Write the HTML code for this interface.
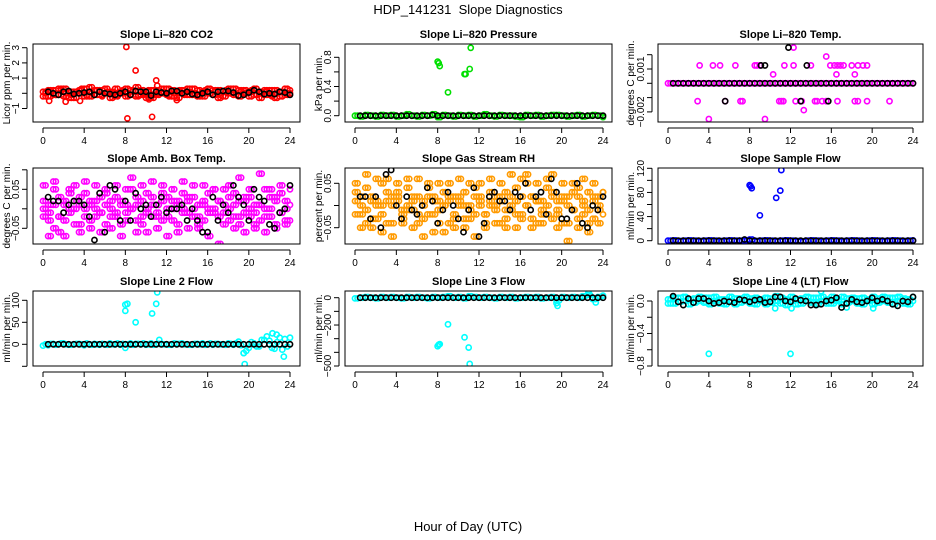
<!DOCTYPE html>
<html><head><meta charset="utf-8"><style>
html,body{margin:0;padding:0;background:#fff;}
svg{display:block;font-family:"Liberation Sans",sans-serif;}
</style></head><body>
<svg id="chart" width="936" height="540" viewBox="0 0 936 540" xmlns="http://www.w3.org/2000/svg">
<text x="468" y="14" font-size="13" text-anchor="middle" style="white-space:pre">HDP_141231  Slope Diagnostics</text>
<text x="468" y="531" font-size="13" text-anchor="middle">Hour of Day (UTC)</text>
</svg>
<script>
// shared half-hour grid (hours)
const hours = [0,0.5,1,1.5,2,2.5,3,3.5,4,4.5,5,5.5,6,6.5,7,7.5,8,8.5,9,9.5,10,10.5,11,11.5,12,12.5,13,13.5,14,14.5,15,15.5,16,16.5,17,17.5,18,18.5,19,19.5,20,20.5,21,21.5,22,22.5,23,23.5,24];
const blackHours = [0.5,1,1.5,2,2.5,3,3.5,4,4.5,5,5.5,6,6.5,7,7.5,8,8.5,9,9.5,10,10.5,11,11.5,12,12.5,13,13.5,14,14.5,15,15.5,16,16.5,17,17.5,18,18.5,19,19.5,20,20.5,21,21.5,22,22.5,23,23.5,24];
const quarterHours = [0.25,0.75,1.25,1.75,2.25,2.75,3.25,3.75,4.25,4.75,5.25,5.75,6.25,6.75,7.25,7.75,8.25,8.75,9.25,9.75,10.25,10.75,11.25,11.75,12.25,12.75,13.25,13.75,14.25,14.75,15.25,15.75,16.25,16.75,17.25,17.75,18.25,18.75,19.25,19.75,20.25,20.75,21.25,21.75,22.25,22.75,23.25,23.75];
const xTicks = [0,4,8,12,16,20,24];

// Panel 1 CO2
const co2A = [0.1,-0.2,0.2,-0.1,0.3,-0.3,0.1,0.2,-0.2,0.4,-0.1,0.2,0.0,-0.3,0.3,0.1,-0.2,0.2,0.4,-0.1,0.1,-0.3,0.2,0.0,0.3,-0.2,0.1,0.2,-0.1,0.3,-0.2,0.1,0.0,0.2,-0.3,0.1,0.3,-0.1,0.2,0.0,-0.2,0.3,0.1,-0.1,0.2,-0.3,0.1,0.3,0.0];
const co2B = [-0.2,0.2,-0.1,0.3,-0.2,0.1,-0.3,0.0,0.3,-0.2,0.2,-0.1,0.3,0.1,-0.2,0.0,0.3,-0.1,-0.2,0.2,-0.3,0.2,-0.1,0.3,-0.1,0.2,-0.3,0.0,0.3,-0.1,0.2,-0.2,0.3,-0.1,0.2,-0.2,0.0,0.3,-0.2,0.2,0.1,-0.1,-0.3,0.2,-0.1,0.2,-0.2,-0.1,0.2];
const co2C = [0.0,0.1,-0.1,0.2,0.0,-0.1,0.1,0.3,-0.1,0.0,0.2,-0.2,0.1,0.0,-0.1,0.2,0.0,0.1,-0.1,0.0,0.2,-0.1,0.0,0.1,-0.2,0.0,0.2,-0.1,0.1,0.0,-0.1,0.2,0.0,0.1,-0.1,0.2,0.0,-0.1,0.1,0.0,0.2,-0.1,0.0,0.1,-0.2,0.0,0.1,0.0];
const co2OutX = [8.1,8.2,9.0,10.6,11.0,11.1,0.6,2.2,3.6,13.0,10.3];
const co2OutY = [3.05,-1.65,1.5,-1.55,0.85,0.5,-0.5,-0.55,-0.5,-0.45,-0.4];
const co2Black = [0.1,0,-0.1,0.1,0.15,-0.05,0,0.05,0.1,-0.1,0.1,0,-0.05,-0.1,0,0.1,-0.1,0.15,0.1,0.1,-0.15,0.1,0.05,0,0.15,0.15,0,0.1,-0.05,-0.1,0,0.1,-0.1,0.1,0.15,0.15,0.05,-0.15,-0.1,0.05,0.2,0.1,-0.05,0,-0.05,0.1,0.05,-0.1];
const co2Ticks = [-1,0,1,2,3];
const co2Labels = ["\u22121","","1","2","3"];

// Panel 2 Pressure
const presA = [0,-0.01,0.01,0,-0.01,0.01,0,0.01,-0.01,0,0.02,0,-0.01,0.01,0,0.02,-0.02,0.01,0,-0.01,0.01,0,0.01,-0.01,0,0.02,0,-0.01,0.01,0,0,-0.01,-0.02,0.01,0,0.01,-0.01,0,0.01,0.01,0,-0.01,0,0.01,-0.01,0,0.01,0,-0.02];
const presOutX = [8.0,8.1,8.2,9.0,10.6,10.7,11.1,11.2];
const presOutY = [0.74,0.72,0.68,0.32,0.57,0.57,0.64,0.93];
const presBlack = [0,0,0,0,0,0,0,0,0,0,0,0,0,0,0.01,0,0,0,0,0,0,0,0,0,0,0,0,0,0,0,0,0,0,0,0,0,0,0,0,0,0,0,0,0,0,0,0,0];
const presTicks = [0,0.2,0.4,0.6,0.8];
const presLabels = ["0.0","","0.4","","0.8"];

// Panel 3 Li-820 Temp
const tempZero = [0,0,0,0,0,0,0,0,0,0,0,0,0,0,0,0,0,0,0,0,0,0,0,0,0,0,0,0,0,0,0,0,0,0,0,0,0,0,0,0,0,0,0,0,0,0,0,0,0];
const tempOutX = [3.1,4.4,5.1,6.6,8.5,8.7,9.0,11.4,12.3,14.0,15.9,16.3,16.6,16.9,17.2,18.0,18.6,19.1,19.5,2.9,5.6,7.1,7.3,10.9,11.1,11.3,12.5,13.1,14.4,14.6,15.1,15.5,16.6,18.3,18.6,19.5,21.7,10.3,16.5,18.3,15.5,12.3,13.3,4.0,9.5];
const tempOutY = [0.00125,0.00125,0.00125,0.00125,0.00125,0.00125,0.00125,0.00125,0.00125,0.00125,0.00125,0.00125,0.00125,0.00125,0.00125,0.00125,0.00125,0.00125,0.00125,-0.00125,-0.00125,-0.00125,-0.00125,-0.00125,-0.00125,-0.00125,-0.00125,-0.00125,-0.00125,-0.00125,-0.00125,-0.00125,-0.00125,-0.00125,-0.00125,-0.00125,-0.00125,0.000625,0.000625,0.000625,0.001875,0.0025,-0.001875,-0.0025,-0.0025];
const tempBlackX = [11.8,13.6,9.1,9.5,5.6,13.0,15.7];
const tempBlackY = [0.0025,0.00125,0.00125,0.00125,-0.00125,-0.00125,-0.00125];
const tempTicks = [-0.002,-0.001,0,0.001,0.002];
const tempLabels = ["\u22120.002","","","0.001",""];

// Panel 4 Amb Box Temp
const ambA = [0.02,-0.03,0.05,-0.02,0.01,0.04,-0.04,0.03,0.0,-0.03,0.02,-0.01,0.04,-0.02,0.03,-0.04,0.01,0.05,-0.03,0.02,-0.01,0.03,-0.02,0.04,0.0,-0.03,0.02,0.04,-0.01,0.03,-0.04,0.02,0.0,0.05,-0.02,0.01,-0.03,0.04,0.02,-0.01,0.03,-0.04,0.01,0.05,-0.02,0.03,-0.01,0.02,-0.03];
const ambB = [-0.02,0.01,-0.05,0.03,-0.03,0.0,0.02,-0.04,0.04,0.01,-0.02,0.03,-0.04,0.02,-0.01,0.01,-0.03,0.0,0.03,-0.04,0.04,-0.02,0.01,-0.03,0.03,0.02,-0.04,0.0,0.03,-0.02,0.01,-0.03,0.04,-0.01,0.02,-0.04,0.03,-0.02,-0.04,0.03,-0.02,0.01,-0.03,0.0,0.03,-0.04,0.04,-0.03,0.01];
const ambC = [0.06,-0.07,0.07,-0.06,-0.07,0.05,0.06,-0.06,0.07,-0.05,0.06,-0.06,0.05,-0.05,0.06,-0.07,0.05,0.08,-0.06,0.06,-0.06,0.07,-0.05,0.06,-0.07,0.05,-0.06,0.07,-0.05,0.06,-0.05,0.06,-0.07,0.05,-0.09,0.05,0.06,-0.05,0.08,-0.06,0.05,-0.05,0.09,-0.06,0.05,-0.05,0.06,-0.04,0.05];
const ambD = [0.0,-0.01,0.01,-0.02,0.02,-0.01,0.0,0.01,-0.02,0.02,0.0,-0.01,0.01,0.0,-0.02,0.02,-0.01,0.0,0.01,-0.02,0.0,0.01,-0.01,0.02,-0.02,0.0,0.01,-0.01,0.02,0.0,-0.02,0.01,-0.01,0.0,0.02,-0.01,0.0,0.01,-0.02,0.02,0.0,-0.01,0.01,-0.02,0.0,0.02,-0.01,0.0];
const ambBlack = [0.03,0.02,0.02,-0.01,0.01,0.02,0.02,0.01,-0.02,-0.08,0.04,-0.06,0.06,0.05,-0.03,0.02,-0.03,0.04,0.0,0.01,-0.02,0.01,0.03,-0.01,0.0,0.0,0.01,-0.03,0.0,-0.03,-0.06,-0.06,0.03,-0.03,0.01,-0.01,0.06,0.03,0.01,-0.03,0.05,0.03,0.02,-0.04,-0.05,-0.01,0.0,0.06];
const ambTicks = [-0.05,0,0.05,0.1];
const ambLabels = ["\u22120.05","","0.05",""];

// Panel 5 Gas Stream RH
const rhA = [0.03,-0.02,0.04,-0.03,0.01,0.05,-0.04,0.02,0.03,-0.02,0.04,-0.01,0.02,-0.03,0.04,-0.02,0.01,0.03,-0.04,0.02,0.0,0.03,-0.03,0.04,0.01,-0.02,0.03,0.02,-0.04,0.03,-0.01,0.04,0.02,0.05,-0.03,0.01,-0.02,0.04,0.03,-0.01,0.02,-0.04,0.03,0.04,-0.02,0.03,-0.03,0.02,0.03];
const rhB = [-0.02,0.02,-0.04,0.01,-0.03,0.0,0.03,-0.04,0.01,-0.03,-0.01,0.02,-0.04,0.01,-0.02,0.02,-0.04,0.0,0.01,-0.03,0.02,-0.03,0.0,-0.02,0.02,-0.04,0.0,-0.01,0.01,-0.03,0.02,-0.02,-0.03,0.0,0.02,-0.04,0.01,-0.02,-0.03,0.01,-0.04,0.02,-0.01,-0.03,0.01,-0.04,0.02,-0.01,-0.02];
const rhC = [0.05,-0.05,0.07,-0.05,0.06,-0.06,0.06,-0.07,0.05,-0.04,0.06,-0.05,0.06,-0.07,0.05,-0.06,0.05,-0.06,0.05,-0.05,0.06,-0.05,0.05,-0.07,0.05,-0.05,0.06,-0.04,0.05,-0.05,0.07,-0.05,0.06,0.07,-0.05,0.05,-0.04,0.06,0.07,-0.05,0.05,-0.08,0.05,-0.05,0.06,-0.06,0.05,-0.04,0.03];
const rhD = [0.01,0.0,-0.01,0.02,0.0,-0.02,0.01,0.0,0.02,-0.01,0.0,0.01,-0.02,0.0,0.02,0.01,-0.01,0.0,0.02,-0.02,0.01,0.0,-0.01,0.02,0.0,-0.02,0.01,0.0,0.02,-0.01,0.0,0.01,-0.02,0.0,0.02,0.01,-0.01,0.0,0.02,-0.02,0.01,0.0,-0.01,0.02,0.0,-0.01,0.01,0.0];
const rhBlack = [0.02,0.02,-0.03,0.02,-0.05,0.07,0.08,0.0,-0.03,0.02,-0.01,-0.02,0.0,0.04,0.01,-0.04,-0.01,0.03,0.0,-0.03,-0.06,-0.01,0.04,-0.07,-0.04,0.02,0.03,0.01,0.01,-0.01,0.03,0.02,0.05,-0.01,0.02,0.03,-0.02,0.06,0.03,-0.03,-0.03,-0.01,0.05,-0.04,-0.05,0.0,-0.01,0.02];
const rhTicks = [-0.05,0,0.05];
const rhLabels = ["\u22120.05","","0.05"];

// Panel 6 Sample Flow
const sfA = [0,0.5,-0.5,0,0.5,0,-0.5,0,0.5,0,-0.5,0,0.5,0,0,0.5,2,-0.5,0,0.5,0,-0.5,0,0.5,0,-0.5,-1,0,0.5,0,-0.5,0,0.5,0,-0.5,0,0.5,0,-0.5,0,0.5,0,-0.5,0,0.5,0,-0.5,0,0.5];
const sfOutX = [8.0,8.1,8.2,9.0,10.6,11.0,11.1];
const sfOutY = [92,90,87,42,71,83,117];
const sfBlack = [0,0,0,0,0,0,0,0,0,0,0,0,0,0,2,0,0,0,0,0,0,0,0,0,0,0,0,0,0,0,0,0,0,0,0,0,0,0,0,0,0,0,0,0,0,0,0,0];
const sfTicks = [0,20,40,60,80,100,120];
const sfLabels = ["0","","40","","80","","120"];

// Panel 7 Line 2 Flow
const l2A = [-3,-2,1,0,2,-1,0,1,-2,0,1,-1,0,2,0,-1,-8,2,1,0,-1,2,0,1,0,-1,1,2,0,-1,1,2,0,-1,1,0,2,-1,6,-20,-8,2,-5,10,8,-10,15,12,15];
const l2B = [0,1,-1,2,0,-1,1,0,2,-1,0,1,-1,0,2,1,0,-1,1,2,0,-1,1,0,-1,2,1,0,-1,1,0,-1,2,1,0,-1,1,2,-2,-15,5,-5,10,18,-8,5,-12,-5,10];
const l2OutX = [8.0,8.0,8.2,9.0,10.6,11.0,11.1,11.3,19.6,19.5,23.4,22.3,22.7];
const l2OutY = [90,76,92,50,70,92,118,10,-45,-20,-28,25,22];
const l2Black = [0,0,0,0,0,0,0,0,0,0,0,0,0,0,0,0,0,0,0,0,0,0,0,0,0,0,0,0,0,0,0,0,0,0,0,0,0,0,0,0,0,0,0,0,0,0,0,0];
const l2Ticks = [-50,0,50,100];
const l2Labels = ["","0","50","100"];

// Panel 8 Line 3 Flow
const l3A = [-5,0,5,0,-5,5,0,5,0,-5,5,0,5,0,-5,5,0,5,10,0,5,-5,10,5,0,5,0,-5,5,0,5,-5,0,5,0,5,-5,0,5,-20,5,0,5,0,10,20,-10,5,15];
const l3OutX = [8.0,8.1,8.2,9.0,10.6,11.0,11.1,19.6,19.5,22.6,23.3];
const l3OutY = [-355,-345,-340,-195,-290,-365,-485,-60,-40,40,-35];
const l3Black = [0,0,0,0,0,0,0,0,0,0,0,0,0,0,0,0,0,0,0,0,0,0,0,0,0,0,0,0,0,0,0,0,0,0,0,0,0,0,0,0,0,0,0,0,0,0,0,0];
const l3Ticks = [0,-100,-200,-300,-400,-500];
const l3Labels = ["0","","\u2212200","","","\u2212500"];

// Panel 9 Line 4 (LT) Flow
const l4A = [0.02,-0.03,0.04,0.0,-0.04,0.03,0.05,-0.02,0.04,0.0,-0.03,0.02,0.05,-0.04,0.03,0.0,-0.03,0.04,0.02,-0.04,0.03,0.06,-0.03,0.02,0.0,-0.04,0.03,0.05,-0.02,0.04,0.0,-0.03,0.05,0.02,-0.04,0.03,0.0,-0.03,0.04,0.02,-0.04,0.03,0.05,-0.02,0.04,0.0,-0.03,0.02,0.05];
const l4B = [-0.03,0.04,-0.01,0.05,0.02,-0.02,0.0,0.04,-0.04,0.05,0.02,-0.04,0.0,0.03,-0.02,0.05,0.03,-0.04,0.0,0.04,-0.02,0.0,0.04,-0.05,0.05,0.02,-0.03,0.0,0.04,-0.04,0.05,0.02,-0.03,0.0,0.05,-0.02,0.04,0.03,-0.04,0.0,0.05,-0.02,0.0,0.04,-0.04,0.05,0.03,-0.04,0.0];
const l4OutX = [4.0,12.0,20.0,15.0,10.5,12.1,17.5,20.1];
const l4OutY = [-0.65,-0.65,-0.85,0.12,-0.09,-0.09,-0.08,-0.09];
const l4Black = [0.06,-0.01,-0.05,0.03,-0.02,0.03,0.03,0.0,-0.03,-0.02,0.0,-0.01,-0.02,0.02,0.01,-0.01,0.01,0.02,-0.02,-0.01,0.05,0.05,0.0,-0.01,0.03,0.01,0.0,-0.05,-0.05,-0.04,0.0,0.01,0.04,-0.08,-0.03,0.02,-0.01,-0.02,0.0,0.04,0.0,0.02,0.0,-0.04,-0.06,0.0,-0.01,0.05];
const l4Ticks = [0,-0.2,-0.4,-0.6,-0.8];
const l4Labels = ["0.0","","\u22120.4","","\u22120.8"];

const NS = "http://www.w3.org/2000/svg";
const svg = document.getElementById('chart');
function mk(tag, attrs, parent){
  const e = document.createElementNS(NS, tag);
  for (const k in attrs) e.setAttribute(k, attrs[k]);
  (parent||svg).appendChild(e);
  return e;
}

function drawPanel(p){
  const g = mk('g', {});
  
  
  const xs = h => p.x0 + (p.x24 - p.x0) * h / 24;
  const ys = v => p.ya + (v - p.va) * (p.yb - p.ya) / (p.vb - p.va);
  const t = mk('text', {x:(p.bx0+p.bx1)/2, y:p.by0-6, 'font-size':11, 'font-weight':'bold', 'text-anchor':'middle'}, g);
  t.textContent = p.title;
  
  
  const yl = mk('text', {x:0, y:0, 'font-size':10, 'text-anchor':'middle', transform:`translate(${p.ylx},${(p.by0+p.by1)/2}) rotate(-90)`}, g);
  yl.textContent = p.ylabel;
  
  
  const cid = 'c' + p.name;
  const cp = mk('clipPath', {id:cid}, g);
  mk('rect', {x:p.bx0, y:p.by0, width:p.bx1-p.bx0, height:p.by1-p.by0}, cp);
  const pts = mk('g', {'clip-path':`url(#${cid})`, fill:'none', 'stroke-width':1.6}, g);
  
  
  p.series.forEach(s => {
    const n = Math.min(s.x.length, s.y.length);
    for (let i = 0; i < n; i++){
      const c = mk('circle', {cx:xs(s.x[i]), cy:ys(s.y[i]), r:2.6, stroke:s.color}, pts);
      
      
    }
  });
  const b = mk('rect', {x:p.bx0, y:p.by0, width:p.bx1-p.bx0, height:p.by1-p.by0, fill:'none', stroke:'#000', 'stroke-width':1}, g);
  
  
  const xa = mk('g', {stroke:'#000', 'stroke-width':1}, g);
  
  
  const ay = p.by1 + 6;
  mk('line', {x1:xs(0), x2:xs(24), y1:ay, y2:ay}, xa);
  xTicks.forEach(h => {
    mk('line', {x1:xs(h), x2:xs(h), y1:ay, y2:ay+5}, xa);
    const tl = mk('text', {x:xs(h), y:ay+16, 'font-size':10, 'text-anchor':'middle', stroke:'none', fill:'#000'}, xa);
    tl.textContent = h;
    
    
  });
  const ya = mk('g', {stroke:'#000', 'stroke-width':1}, g);
  
  
  const ax = p.bx0 - 6;
  const tv = p.ticks.map(ys);
  mk('line', {x1:ax, x2:ax, y1:Math.min(...tv), y2:Math.max(...tv)}, ya);
  p.ticks.forEach((v, i) => {
    const yy = ys(v);
    mk('line', {x1:ax-5, x2:ax, y1:yy, y2:yy}, ya);
    if (p.labels[i]){
      const tl = mk('text', {x:0, y:0, 'font-size':10, 'text-anchor':'middle', stroke:'none', fill:'#000', transform:`translate(${ax-8},${yy}) rotate(-90)`}, ya);
      tl.textContent = p.labels[i];
      
      
    }
  });
}

const C1 = {bx0:33, bx1:300, x0:43, x24:290, ylx:10};
const C2 = {bx0:345, bx1:612, x0:355, x24:603, ylx:322};
const C3 = {bx0:658, bx1:923, x0:668, x24:913, ylx:634};
const R1 = {by0:44, by1:122}, R2 = {by0:168, by1:244}, R3 = {by0:291, by1:366};

const panels = [
  Object.assign({name:'panel-co2', title:'Slope Li\u2013820 CO2', ylabel:'Licor ppm per min.', va:3, ya:47.7, vb:-1, yb:108.5, ticks:co2Ticks, labels:co2Labels,
    series:[{x:hours,y:co2A,color:'#ff0000',kind:'co2-point'},{x:hours,y:co2B,color:'#ff0000',kind:'co2-point'},{x:quarterHours,y:co2C,color:'#ff0000',kind:'co2-point'},{x:quarterHours,y:co2B,color:'#ff0000',kind:'co2-point'},{x:quarterHours,y:co2A,color:'#ff0000',kind:'co2-point'},{x:co2OutX,y:co2OutY,color:'#ff0000',kind:'co2-outlier'},{x:blackHours,y:co2Black,color:'#000',kind:'co2-black-point'}]}, C1, R1),
  Object.assign({name:'panel-pressure', title:'Slope Li\u2013820 Pressure', ylabel:'kPa per min.', va:0, ya:115.7, vb:0.8, yb:57.3, ticks:presTicks, labels:presLabels,
    series:[{x:hours,y:presA,color:'#00e000',kind:'pressure-point'},{x:quarterHours,y:presA,color:'#00e000',kind:'pressure-point'},{x:blackHours,y:presBlack,color:'#000',kind:'pressure-black-point'},{x:presOutX,y:presOutY,color:'#00e000',kind:'pressure-outlier'}]}, C2, R1),
  Object.assign({name:'panel-temp', title:'Slope Li\u2013820 Temp.', ylabel:'degrees C per min.', va:0, ya:83.3, vb:0.001, yb:69, ticks:tempTicks, labels:tempLabels,
    series:[{x:hours,y:tempZero,color:'#ff00ff',kind:'temp-point'},{x:quarterHours,y:tempZero,color:'#ff00ff',kind:'temp-point'},{x:tempOutX,y:tempOutY,color:'#ff00ff',kind:'temp-point'},{x:blackHours,y:tempZero,color:'#000',kind:'temp-black-point'},{x:tempBlackX,y:tempBlackY,color:'#000',kind:'temp-black-point'}]}, C3, R1),
  Object.assign({name:'panel-amb-temp', title:'Slope Amb. Box Temp.', ylabel:'degrees C per min.', va:0.05, ya:189.3, vb:-0.05, yb:228.3, ticks:ambTicks, labels:ambLabels,
    series:[{x:hours,y:ambA,color:'#ff00ff',kind:'amb-point'},{x:quarterHours,y:ambB,color:'#ff00ff',kind:'amb-point'},{x:hours,y:ambB,color:'#ff00ff',kind:'amb-point'},{x:quarterHours,y:ambA,color:'#ff00ff',kind:'amb-point'},{x:hours,y:ambC,color:'#ff00ff',kind:'amb-point'},{x:quarterHours,y:ambD,color:'#ff00ff',kind:'amb-point'},{x:hours,y:ambD,color:'#ff00ff',kind:'amb-point'},{x:quarterHours,y:ambC,color:'#ff00ff',kind:'amb-point'},{x:blackHours,y:ambBlack,color:'#000',kind:'amb-black-point'}]}, C1, R2),
  Object.assign({name:'panel-rh', title:'Slope Gas Stream RH', ylabel:'percent per min.', va:0.05, ya:183.3, vb:-0.05, yb:227.7, ticks:rhTicks, labels:rhLabels,
    series:[{x:hours,y:rhA,color:'#ff9a00',kind:'rh-point'},{x:quarterHours,y:rhB,color:'#ff9a00',kind:'rh-point'},{x:hours,y:rhB,color:'#ff9a00',kind:'rh-point'},{x:quarterHours,y:rhA,color:'#ff9a00',kind:'rh-point'},{x:hours,y:rhC,color:'#ff9a00',kind:'rh-point'},{x:quarterHours,y:rhD,color:'#ff9a00',kind:'rh-point'},{x:hours,y:rhD,color:'#ff9a00',kind:'rh-point'},{x:quarterHours,y:rhC,color:'#ff9a00',kind:'rh-point'},{x:blackHours,y:rhBlack,color:'#000',kind:'rh-black-point'}]}, C2, R2),
  Object.assign({name:'panel-sample-flow', title:'Slope Sample Flow', ylabel:'ml/min per min.', va:0, ya:240.7, vb:120, yb:168.3, ticks:sfTicks, labels:sfLabels,
    series:[{x:hours,y:sfA,color:'#0000ff',kind:'sample-flow-point'},{x:quarterHours,y:sfA,color:'#0000ff',kind:'sample-flow-point'},{x:blackHours,y:sfBlack,color:'#000',kind:'sample-flow-black-point'},{x:sfOutX,y:sfOutY,color:'#0000ff',kind:'sample-flow-outlier'}]}, C3, R2),
  Object.assign({name:'panel-line2', title:'Slope Line 2 Flow', ylabel:'ml/min per min.', va:0, ya:344.3, vb:100, yb:300.3, ticks:l2Ticks, labels:l2Labels,
    series:[{x:hours,y:l2A,color:'#00ffff',kind:'line2-point'},{x:quarterHours,y:l2B,color:'#00ffff',kind:'line2-point'},{x:l2OutX,y:l2OutY,color:'#00ffff',kind:'line2-outlier'},{x:blackHours,y:l2Black,color:'#000',kind:'line2-black-point'}]}, C1, R3),
  Object.assign({name:'panel-line3', title:'Slope Line 3 Flow', ylabel:'ml/min per min.', va:0, ya:297.7, vb:-500, yb:366, ticks:l3Ticks, labels:l3Labels,
    series:[{x:hours,y:l3A,color:'#00ffff',kind:'line3-point'},{x:quarterHours,y:l3A,color:'#00ffff',kind:'line3-point'},{x:l3OutX,y:l3OutY,color:'#00ffff',kind:'line3-outlier'},{x:blackHours,y:l3Black,color:'#000',kind:'line3-black-point'}]}, C2, R3),
  Object.assign({name:'panel-line4', title:'Slope Line 4 (LT) Flow', ylabel:'ml/min per min.', va:0, ya:301, vb:-0.8, yb:366, ticks:l4Ticks, labels:l4Labels,
    series:[{x:hours,y:l4A,color:'#00ffff',kind:'line4-point'},{x:hours,y:l4B,color:'#00ffff',kind:'line4-point'},{x:quarterHours,y:l4A,color:'#00ffff',kind:'line4-point'},{x:quarterHours,y:l4B,color:'#00ffff',kind:'line4-point'},{x:l4OutX,y:l4OutY,color:'#00ffff',kind:'line4-outlier'},{x:blackHours,y:l4Black,color:'#000',kind:'line4-black-point'}]}, C3, R3)
];
panels.forEach(drawPanel);
</script>
</body></html>
